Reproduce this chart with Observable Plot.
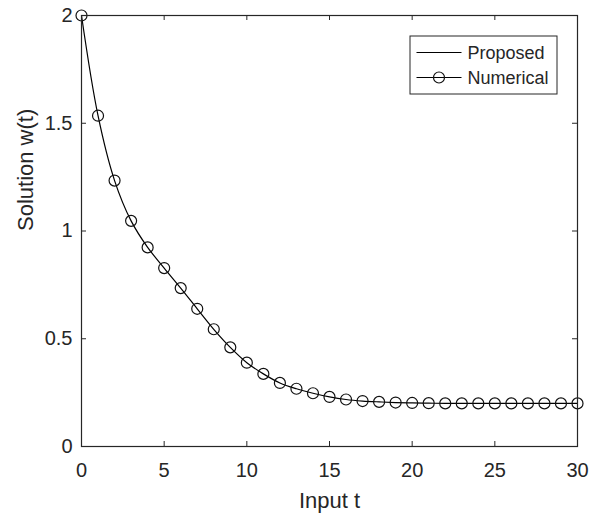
<!DOCTYPE html>
<html>
<head>
<meta charset="utf-8">
<script src="https://cdn.jsdelivr.net/npm/d3@7"></script>
<script src="https://cdn.jsdelivr.net/npm/@observablehq/plot@0.6"></script>
<style>
  html, body { margin: 0; padding: 0; background: #fff; }
  svg { font-family: "Liberation Sans", Arial, Helvetica, sans-serif; }
</style>
</head>
<body>
<div id="chart"></div>
<script>
// ---- data ----
const tValues = [0,1,2,3,4,5,6,7,8,9,10,11,12,13,14,15,16,17,18,19,20,21,22,23,24,25,26,27,28,29,30];
const proposedW = [2.000,1.535,1.234,1.047,0.924,0.828,0.735,0.639,0.544,0.460,0.389,0.337,0.295,0.268,0.247,0.230,0.218,0.211,0.207,0.204,0.202,0.201,0.200,0.200,0.200,0.200,0.200,0.200,0.200,0.200,0.200];
const numericalW = [2.000,1.535,1.234,1.047,0.924,0.828,0.735,0.639,0.544,0.460,0.389,0.337,0.295,0.268,0.247,0.230,0.218,0.211,0.207,0.204,0.202,0.201,0.200,0.200,0.200,0.200,0.200,0.200,0.200,0.200,0.200];
const xTicks = [0,5,10,15,20,25,30];
const yTicks = [0,0.5,1,1.5,2];
const seriesNames = ["Proposed","Numerical"];
const xLabel = "Input t";
const yLabel = "Solution w(t)";

const proposed = tValues.map((t,i) => ({t, w: proposedW[i]}));
const numerical = tValues.map((t,i) => ({t, w: numericalW[i]}));

// ---- layout ----
const W = 595, H = 516;
const mL = 81, mR = 18, mT = 15, mB = 70;
const plotW = W - mL - mR, plotH = H - mT - mB;
const axisColor = "#262626";
const tickLen = 5;

const svg = Plot.plot({
  width: W, height: H,
  marginLeft: mL, marginRight: mR, marginTop: mT, marginBottom: mB,
  style: {color: axisColor, background: "#fff", fontFamily: "'Liberation Sans', Arial, Helvetica, sans-serif"},
  x: {domain: [0, 30]},
  y: {domain: [0, 2]},
  marks: [
    Plot.line(proposed, {x: "t", y: "w", stroke: "#000", strokeWidth: 1.2, curve: "catmull-rom"}),
    Plot.dot(numerical, {x: "t", y: "w", r: 5.5, stroke: "#111", strokeWidth: 1.2, fill: "none"}),
    Plot.frame({stroke: axisColor, strokeWidth: 1.2}),
    // inward ticks on all four sides
    Plot.tickX(xTicks, {x: d => d, insetTop: plotH - tickLen, stroke: axisColor, strokeWidth: 1}),
    Plot.tickX(xTicks, {x: d => d, insetBottom: plotH - tickLen, stroke: axisColor, strokeWidth: 1}),
    Plot.tickY(yTicks, {y: d => d, insetRight: plotW - tickLen, stroke: axisColor, strokeWidth: 1}),
    Plot.tickY(yTicks, {y: d => d, insetLeft: plotW - tickLen, stroke: axisColor, strokeWidth: 1}),
    Plot.axisX(xTicks, {tickSize: 0, tickPadding: 16, fontSize: 20, label: null, tickFormat: d => String(d)}),
    Plot.axisY(yTicks, {tickSize: 0, tickPadding: 9, fontSize: 20, label: null, tickFormat: d => String(d)}),
    Plot.text([xLabel], {frameAnchor: "bottom", text: d => d, lineAnchor: "top", dy: 46, fontSize: 22, fill: axisColor}),
    Plot.text([yLabel], {frameAnchor: "left", text: d => d, rotate: -90, lineAnchor: "top", dx: -64, fontSize: 22, fill: axisColor})
  ]
});

// ---- legend (MATLAB-style box, northeast) ----
const lg = d3.select(svg).append("g").attr("font-size", 18).attr("fill", axisColor).attr("text-anchor", "start");
const boxW = 147, boxH = 58;
const bx = mL + plotW - 20 - boxW, by = mT + 21;
lg.append("rect").attr("x", bx).attr("y", by).attr("width", boxW).attr("height", boxH)
  .attr("fill", "#fff").attr("stroke", axisColor).attr("stroke-width", 1);
seriesNames.forEach((name, i) => {
  const cy = by + 16.5 + i * 25;
  lg.append("line").attr("x1", bx + 6.5).attr("x2", bx + 51.5).attr("y1", cy).attr("y2", cy)
    .attr("stroke", "#000").attr("stroke-width", 1.2);
  if (i === 1) {
    lg.append("circle").attr("cx", bx + 29).attr("cy", cy).attr("r", 5.5)
      .attr("fill", "none").attr("stroke", "#111").attr("stroke-width", 1.2);
  }
  lg.append("text").attr("x", bx + 57.5).attr("y", cy).attr("dy", "0.35em")
    .attr("text-anchor", "start").text(name);
});

document.getElementById("chart").appendChild(svg);
</script>
</body>
</html>
